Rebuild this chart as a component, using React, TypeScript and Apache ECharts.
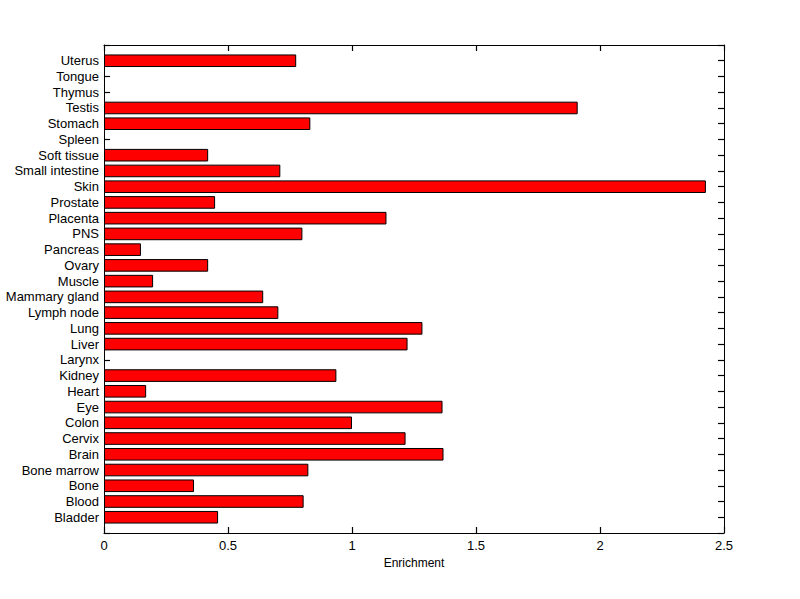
import React, { useEffect, useRef } from "react";
import * as echarts from "echarts";

const categories = [
  "Bladder", "Blood", "Bone", "Bone marrow", "Brain", "Cervix", "Colon", "Eye",
  "Heart", "Kidney", "Larynx", "Liver", "Lung", "Lymph node", "Mammary gland",
  "Muscle", "Ovary", "Pancreas", "PNS", "Placenta", "Prostate", "Skin",
  "Small intestine", "Soft tissue", "Spleen", "Stomach", "Testis", "Thymus",
  "Tongue", "Uterus",
];

const enrichment: (number | null)[] = [
  0.46, 0.805, 0.363, 0.824, 1.369, 1.216, 1.0, 1.365,
  0.17, 0.937, null, 1.224, 1.284, 0.703, 0.642,
  0.198, 0.42, 0.149, 0.8, 1.139, 0.448, 2.427,
  0.711, 0.42, null, 0.832, 1.91, null,
  null, 0.775,
];

const xTicks = { min: 0, max: 2.5, interval: 0.5 };

export default function App() {
  const ref = useRef<HTMLDivElement>(null);
  useEffect(() => {
    if (!ref.current) return;
    const chart = echarts.init(ref.current, null, { renderer: "svg" });
    const cats = ["", ...categories, ""];
    const vals = [null, ...enrichment, null].map((v) => (v == null ? "-" : v));
    const font = { fontFamily: "Liberation Sans, Arial, sans-serif", fontSize: 13, color: "#000" };
    const line = { show: true, onZero: false, lineStyle: { color: "#000", width: 1 } };
    const noTick = { show: false };
    const tick = { show: true, length: 6, interval: 0, lineStyle: { color: "#000", width: 1.2 } };
    const xBase = {
      type: "value",
      min: xTicks.min,
      max: xTicks.max,
      interval: xTicks.interval,
      splitLine: { show: false },
    };
    const yBase = {
      type: "category",
      data: cats,
      boundaryGap: false,
      splitLine: { show: false },
    };
    chart.setOption({
      animation: false,
      backgroundColor: "#fff",
      grid: { left: 104, right: 76, top: 45, bottom: 66, containLabel: false },
      xAxis: [
        {
          ...xBase,
          position: "bottom",
          axisLine: line,
          axisTick: noTick,
          axisLabel: { ...font, margin: 6, formatter: (v: number) => String(v) },
          name: "Enrichment",
          nameLocation: "middle",
          nameGap: 24,
          nameTextStyle: { ...font, fontSize: 12 },
        },
        { ...xBase, position: "top", axisLine: line, axisTick: noTick, axisLabel: { show: false } },
        { ...xBase, position: "bottom", offset: -6, axisLine: { show: false, onZero: false }, axisTick: tick, axisLabel: { show: false } },
        { ...xBase, position: "top", offset: -6, axisLine: { show: false, onZero: false }, axisTick: tick, axisLabel: { show: false } },
      ],
      yAxis: [
        {
          ...yBase,
          position: "left",
          axisLine: line,
          axisTick: noTick,
          axisLabel: { ...font, interval: 0, margin: 5 },
        },
        { ...yBase, position: "right", axisLine: line, axisTick: noTick, axisLabel: { show: false } },
        { ...yBase, position: "left", offset: -6, axisLine: { show: false, onZero: false }, axisTick: tick, axisLabel: { show: false } },
        { ...yBase, position: "right", offset: -6, axisLine: { show: false, onZero: false }, axisTick: tick, axisLabel: { show: false } },
      ],
      series: [
        {
          type: "bar",
          xAxisIndex: 0,
          yAxisIndex: 0,
          data: vals,
          barWidth: 12.6,
          itemStyle: { color: "#ff0000", borderColor: "#000", borderWidth: 1 },
        },
      ],
    });
    return () => chart.dispose();
  }, []);
  return <div ref={ref} style={{ width: 800, height: 599, position: "absolute", left: 0, top: 0 }} />;
}
